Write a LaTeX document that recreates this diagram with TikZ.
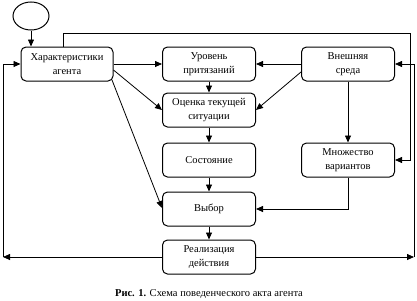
\documentclass[tikz,border=0pt]{standalone}
\usepackage{fontspec}
\setmainfont{Liberation Serif}
\usetikzlibrary{arrows.meta,shapes.geometric}
\begin{document}
\begin{tikzpicture}[x=1pt,y=-1pt,
  box/.style={draw, line width=1pt, rounded corners=5pt, minimum width=93pt, minimum height=34pt, align=center, font=\fontsize{10.5}{14}\selectfont, inner sep=1pt},
  arr/.style={-{Triangle[length=7pt,width=6pt]}, line width=0.8pt},
  ln/.style={line width=0.8pt}]
\useasboundingbox (0,0) rectangle (417,300);
\node[draw, ellipse, minimum width=36pt, minimum height=28pt, line width=1pt] (start) at (31,16) {};
\node[box, minimum width=92pt] (char) at (67,64) {Характеристики\\агента};
\node[box] (lvl) at (209,64) {Уровень\\притязаний};
\node[box] (env) at (348,64) {Внешняя\\среда};
\node[box] (est) at (209,110) {Оценка текущей\\ситуации};
\node[box] (st) at (209,160) {Состояние};
\node[box] (var) at (348,160) {Множество\\вариантов};
\node[box] (ch) at (209,209) {Выбор};
\node[box] (real) at (209,257) {Реализация\\действия};
\node[font=\fontsize{10.5}{12}\selectfont] (cap) at (209,294) {\textbf{Рис. 1.} Схема поведенческого акта агента};
\coordinate (tr) at (410,33);
\coordinate (rb) at (414,257);
\coordinate (lb) at (3,257);
\draw[arr] (start.south) -- (start.south |- char.north);
\draw[arr] (char.east) -- (lvl.west);
\draw[arr] (env.west) -- (lvl.east);
\draw[arr] ([yshift=-6pt]char.east) -- (est.west);
\draw[arr] ([xshift=-1.5pt,yshift=1.5pt]char.south east) -- ([yshift=1pt]ch.west);
\draw[arr] ([yshift=-8pt]env.west) -- (est.east);
\draw[arr] (lvl) -- (est);
\draw[arr] (est) -- (st);
\draw[arr] (st) -- (ch);
\draw[arr] (ch) -- (real);
\draw[arr] (env) -- (var);
\draw[arr] (var.south) |- (ch.east);
\draw[arr] ([xshift=-4pt]char.north) |- (tr) |- (var.east);
\draw[arr] (real.east) -- (rb);
\draw[arr] (rb) |- (env.east);
\draw[arr] (real.west) -- (lb);
\draw[arr] (lb) |- (char.west);
\end{tikzpicture}
\end{document}
